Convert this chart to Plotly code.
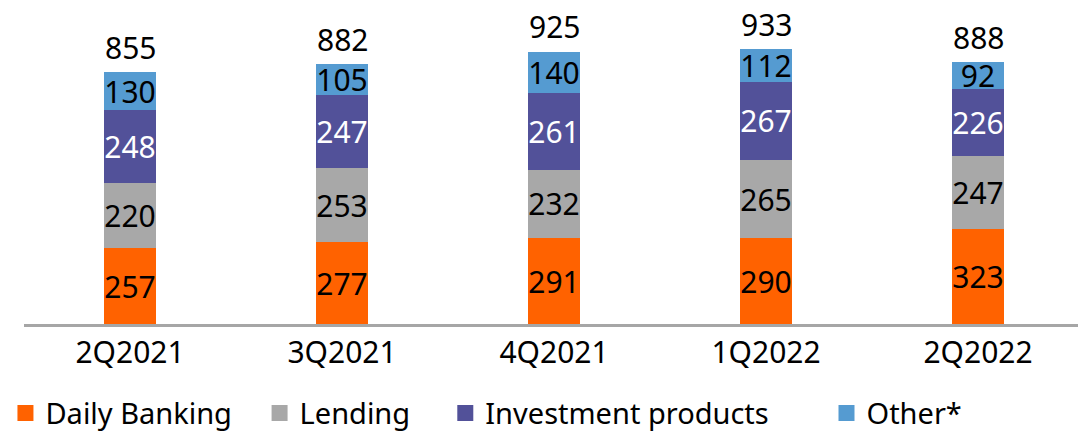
import plotly.graph_objects as go

categories = ["2Q2021", "3Q2021", "4Q2021", "1Q2022", "2Q2022"]
daily_banking = [257, 277, 291, 290, 323]
lending = [220, 253, 232, 265, 247]
investment = [248, 247, 261, 267, 226]
other = [130, 105, 140, 112, 92]
totals = [855, 882, 925, 933, 888]

series = [
    ("Daily Banking", daily_banking, "#FF6200", "black"),
    ("Lending", lending, "#A8A8A8", "black"),
    ("Investment products", investment, "#525199", "white"),
    ("Other*", other, "#559BD1", "black"),
]
pads = [3, 4, 7, 0]

FONT = "Noto Sans"
fig = go.Figure()
for name, vals, color, tcol in series:
    fig.add_trace(go.Bar(
        x=categories, y=vals, name=name, marker=dict(color=color, line=dict(width=0)),
        text=vals, texttemplate="%{text}", textposition="inside",
        insidetextanchor="middle", textangle=0, constraintext="none",
        textfont=dict(family=FONT, size=30, color=tcol),
        showlegend=False, hoverinfo="skip",
    ))

for c, t in zip(categories, totals):
    fig.add_annotation(x=c, y=t, text=str(t), showarrow=False, yanchor="bottom",
                       yshift=3, borderpad=0,
                       font=dict(family=FONT, size=30, color="black"))

for (name, vals, color, tcol), p in zip(series, pads):
    fig.add_trace(go.Scatter(
        x=[None], y=[None], mode="markers",
        name=name + "\u00a0" * p,
        marker=dict(symbol="square", size=18, color=color),
    ))

fig.update_layout(
    width=1086, height=434,
    margin=dict(l=16, r=10, t=12, b=118, autoexpand=False),
    barmode="stack", bargap=0.755,
    plot_bgcolor="white", paper_bgcolor="white",
    font=dict(family=FONT, size=30, color="black"),
    xaxis=dict(showline=True, linecolor="#A6A6A6", linewidth=3, ticks="",
               tickfont=dict(family=FONT, size=30, color="black"), showgrid=False,
               automargin=False),
    yaxis=dict(visible=False, range=[0, 1031], showgrid=False, automargin=False),
    legend=dict(orientation="h", traceorder="normal", x=-0.0175, xanchor="left",
                y=-0.293, yanchor="middle",
                font=dict(family=FONT, size=29, color="black"), itemwidth=30,
                bgcolor="rgba(0,0,0,0)"),
)

fig.write_html("out.html")
